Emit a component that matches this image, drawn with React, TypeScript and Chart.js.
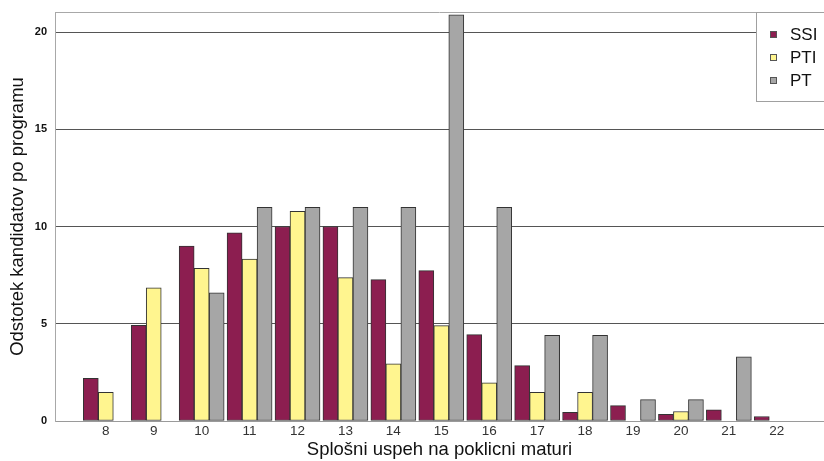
import React, { useEffect, useRef } from "react";
import { Chart, registerables } from "chart.js";

Chart.register(...registerables);

const categories = [8, 9, 10, 11, 12, 13, 14, 15, 16, 17, 18, 19, 20, 21, 22];
const seriesLabels = ["SSI", "PTI", "PT"];
const ssiValues = [2.2, 4.92, 9.0, 9.68, 10.0, 10.0, 7.27, 7.73, 4.44, 2.85, 0.45, 0.79, 0.34, 0.57, 0.23];
const ptiValues = [1.47, 6.85, 7.85, 8.33, 10.78, 7.37, 2.94, 4.9, 1.96, 1.47, 1.47, null, 0.49, null, null];
const ptValues = [null, null, 6.59, 10.99, 10.99, 10.99, 10.99, 20.88, 10.99, 4.4, 4.4, 1.1, 1.1, 3.3, null];
const yTicks = [0, 5, 10, 15, 20];
const xTitle = "Splošni uspeh na poklicni maturi";
const yTitle = "Odstotek kandidatov po programu";

const colors = ["rgb(140,30,80)", "rgb(255,245,143)", "rgb(166,166,166)"];
const FONT = 'Arial, "Liberation Sans", sans-serif';

const framePlugin = {
  id: "topFrame",
  beforeDatasetsDraw(chart: any) {
    const { ctx, chartArea } = chart;
    ctx.save();
    ctx.strokeStyle = "#a8a8a8";
    ctx.lineWidth = 1;
    ctx.beginPath();
    const y = Math.round(chartArea.top) + 0.5;
    ctx.moveTo(chartArea.left, y);
    ctx.lineTo(chartArea.right, y);
    ctx.stroke();
    ctx.restore();
  },
};

const legendPlugin = {
  id: "boxLegend",
  afterDraw(chart: any) {
    const ctx = chart.ctx;
    ctx.save();
    const x0 = 756.5;
    const y0 = 12.5;
    ctx.fillStyle = "#fff";
    ctx.fillRect(x0, y0, 80, 89);
    ctx.strokeStyle = "#a0a0a0";
    ctx.lineWidth = 1;
    ctx.strokeRect(x0, y0, 80, 89);
    chart.data.datasets.forEach((ds: any, i: number) => {
      const cy = 34.5 + i * 23;
      ctx.fillStyle = ds.backgroundColor;
      ctx.fillRect(770, cy - 3.5, 7, 7);
      ctx.strokeStyle = "#555";
      ctx.strokeRect(770.5, cy - 3, 6, 6);
      ctx.fillStyle = "#111";
      ctx.font = `17px ${FONT}`;
      ctx.textBaseline = "middle";
      ctx.textAlign = "left";
      ctx.fillText(ds.label, 790, cy + 1);
    });
    ctx.restore();
  },
};

export default function App() {
  const ref = useRef<HTMLCanvasElement>(null);
  useEffect(() => {
    if (!ref.current) return;
    const mk = (vals: (number | null)[]) => categories.map((c, i) => ({ x: c, y: vals[i] }));
    const chart = new Chart(ref.current, {
      type: "bar",
      data: {
        datasets: [ssiValues, ptiValues, ptValues].map((vals, i) => ({
          label: seriesLabels[i],
          data: mk(vals) as any,
          backgroundColor: colors[i],
          borderColor: "#333",
          borderWidth: 1,
          borderSkipped: false,
          barThickness: 15,
        })),
      },
      options: {
        animation: false,
        responsive: false,
        layout: { padding: { top: 12, left: 0, right: 0, bottom: 0 } },
        plugins: { legend: { display: false }, tooltip: { enabled: false } },
        scales: {
          x: {
            type: "linear",
            offset: false,
            min: 6.94,
            max: 22.985,
            afterFit: (s: any) => {
              s.height = 40;
              s.paddingLeft = 0;
              s.paddingRight = 0;
            },
            grid: { display: false, drawTicks: false },
            border: { display: true, color: "#9a9a9a", width: 1 },
            ticks: {
              stepSize: 1,
              includeBounds: false,
              autoSkip: false,
              maxRotation: 0,
              padding: 2,
              color: "#333",
              font: { family: FONT, size: 13.5 },
              callback: (v: any) => (categories.includes(v) ? String(v) : ""),
            },
            title: {
              display: true,
              text: xTitle,
              color: "#111",
              font: { family: FONT, size: 18.5 },
              padding: { top: 0, bottom: 0 },
            },
          },
          y: {
            min: 0,
            max: 21.03,
            z: 1,
            afterFit: (s: any) => {
              s.width = 55;
              s.paddingTop = 0;
              s.paddingBottom = 0;
            },
            grid: {
              drawTicks: false,
              color: (c: any) => {
                const v = c.tick ? c.tick.value : 0;
                if (v === 0) return "rgba(0,0,0,0)";
                return "#555";
              },
            },
            border: { display: true, color: "#a8a8a8", width: 1 },
            ticks: {
              stepSize: 5,
              includeBounds: false,
              padding: 8,
              color: "#111",
              font: { family: FONT, size: 11, weight: "bold" },
              callback: (v: any) => (yTicks.includes(v) ? String(v) : ""),
            },
            title: {
              display: true,
              text: yTitle,
              color: "#111",
              font: { family: FONT, size: 18.5 },
              padding: { top: 7, bottom: 0 },
            },
          },
        },
      },
      plugins: [framePlugin, legendPlugin],
    });
    return () => chart.destroy();
  }, []);
  return (
    <div style={{ position: "fixed", left: 0, top: 0, width: 824, height: 461, background: "#fff" }}>
      <canvas ref={ref} width={824} height={461} style={{ display: "block" }} />
    </div>
  );
}
